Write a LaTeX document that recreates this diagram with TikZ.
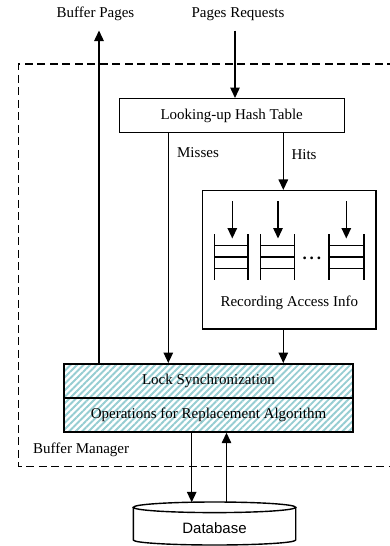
\documentclass[tikz,border=0pt]{standalone}
\usepackage{fontspec}
\setmainfont{Liberation Serif}
\newfontfamily\dbfont{Liberation Sans}
\usetikzlibrary{arrows.meta,patterns.meta}
\definecolor{hatchcol}{RGB}{150,205,210}
\tikzset{
  lbl/.style={inner sep=0pt, font=\fontsize{15}{18}\selectfont},
  box/.style={draw, line width=1.4pt, inner sep=0pt, font=\fontsize{15}{18}\selectfont},
  hatchbox/.style={box, pattern={Lines[angle=45,distance=4.6pt,line width=1.9pt]}, pattern color=hatchcol},
  arr/.style={line width=1.4pt, -{Triangle[length=10.5pt,width=9.5pt]}},
  ln/.style={line width=1.4pt},
  dashedframe/.style={line width=1.4pt, dash pattern=on 8pt off 4.5pt},
}
\begin{document}
\begin{tikzpicture}[x=1pt,y=-1pt]
\useasboundingbox (0,0) rectangle (389,546);
% dashed frame
\draw[dashedframe] (395,64) -- (18.3,64) -- (18.3,466.7) -- (395,466.7);
\node[lbl, anchor=west] (bm) at (33,450) {Buffer Manager};
% top labels
\node[lbl] (bp) at (95.5,14) {Buffer Pages};
\node[lbl] (pr) at (238,14) {Pages Requests};
\coordinate (bpTop) at (99,30.5);
\coordinate (prTop) at (235,30.5);
% boxes
\node[box, minimum width=225pt, minimum height=33.6pt] (hash) at (231.7,115.5) {Looking-up Hash Table};
\node[box, minimum width=173.3pt, minimum height=138.3pt] (rec) at (289.3,259.8) {};
\node[lbl] (rectxt) at (289.3,303) {Recording Access Info};
\node[hatchbox, minimum width=288.7pt, minimum height=34pt] (lock) at (208.5,381) {Lock Synchronization};
\node[hatchbox, minimum width=288.7pt, minimum height=34pt] (ops) at (208.5,415) {Operations for Replacement Algorithm};
% database cylinder
\draw[ln] (133.3,507.3) -- (133.3,540) arc[x radius=81.2pt, y radius=5pt, start angle=180, end angle=360] -- (295.7,507.3);
\draw[ln, fill=white] (214.5,507.3) ellipse[x radius=81.2pt, y radius=5.3pt];
\node[inner sep=0pt, font=\dbfont\fontsize{15}{18}\selectfont] (db) at (214.5,528) {Database};
\coordinate (dbIn) at (191.7,502.3);
\coordinate (dbOut) at (226.5,502.3);
% labels on connectors
\node[lbl] (misses) at (198,153) {Misses};
\node[lbl] (hits) at (304,155) {Hits};
% connectors
\draw[arr] (lock.north -| bpTop) -- (bpTop);
\draw[arr] (prTop) -- (hash.north -| prTop);
\coordinate (missX) at (168.3,0);
\coordinate (hitX) at (283.3,0);
\draw[arr] (hash.south -| missX) -- (lock.north -| missX);
\draw[arr] (hash.south -| hitX) -- (rec.north -| hitX);
\draw[arr] (rec.south -| hitX) -- (lock.north -| hitX);
\draw[arr] (ops.south -| dbIn) -- (dbIn);
\draw[arr] (dbOut) -- (ops.south -| dbOut);
% queues inside recording box
\foreach \a/\b/\m in {214.7/248/232.3, 260.3/294.7/278, 329/364/346.3} {
  \draw[ln] (\a,234) -- (\a,280);
  \draw[ln] (\b,234) -- (\b,280);
  \foreach \yy in {245.7,257,268.3} \draw[ln] (\a,\yy) -- (\b,\yy);
  \draw[arr] (\m,201) -- (\m,238.5);
}
\node[lbl, font=\fontsize{17}{18}\selectfont\bfseries] (dots) at (311.8,258.5) {.\,.\,.};
\end{tikzpicture}
\end{document}
